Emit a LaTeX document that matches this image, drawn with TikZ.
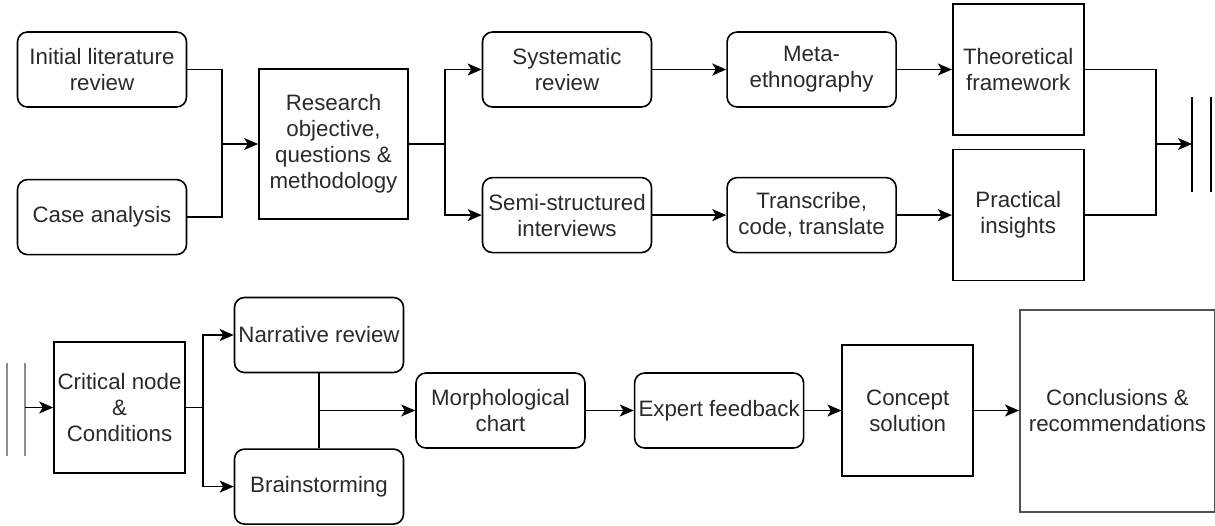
\documentclass[tikz,border=0pt]{standalone}
\usepackage{fontspec}
\setmainfont{Liberation Sans}
\usepackage{tikz}
\usetikzlibrary{positioning}
\usetikzlibrary{arrows.meta}
\definecolor{inkgray}{HTML}{2A2A2A}
\tikzstyle{stage} = [rectangle, rounded corners=10pt, draw=black, line width=1.6pt,
minimum width=169pt, minimum height=75pt, inner sep=0pt, align=center,
text=inkgray, font=\fontsize{22.3}{26}\selectfont]
\tikzstyle{block} = [stage, sharp corners, minimum width=131pt, minimum height=131pt]
\tikzstyle{link} = [line width=1.6pt]
\tikzstyle{flow} = [link, ->]
\tikzstyle{cutmark} = [line width=1.6pt]
\tikzstyle{cutgray} = [line width=2.6pt, color=black!45]
\tikzset{>={Stealth[length=14pt,width=12pt,inset=3.5pt]}}

\begin{document}
\begin{tikzpicture}
  [
    x=1pt, y=-1pt,
    node distance=40pt
    ]

  \useasboundingbox (0,0) rectangle (1215,525);

  % first row
  \node[stage] (init) at (102,69.5) {Initial literature\\review};
  \node[stage, below=71pt of init] (case) {Case analysis};

  \node[block, minimum width=149pt, minimum height=150pt] (obj) at (333.5,144)
        {Research\\objective,\\questions \&\\methodology};

  \node[stage] (sysrev) at (567,69.5) {Systematic\\review};
  \node[stage, right=74pt of sysrev] (meta) {Meta-\\ethnography};
  \node[block, right=55pt of meta] (theo) {Theoretical\\framework};

  \node[stage, below=69pt of sysrev] (interv) {Semi-structured\\interviews};
  \node[stage, below=69pt of meta] (transc) {Transcribe,\\code, translate};
  \node[block, below=13pt of theo] (insight) {Practical\\insights};

  \coordinate (jin) at (222,144);
  \coordinate (jout) at (445,144);
  \coordinate (jend) at (1156,144);
  \coordinate (cut1) at (1192,144);
  \coordinate (cut1a) at (1192,97);
  \coordinate (cut1b) at (1192,192);
  \coordinate (cut2a) at (1211,97);
  \coordinate (cut2b) at (1211,192);

  \draw[link] (init) -| (jin);
  \draw[link] (case) -| (jin);
  \draw[flow] (jin) -- (obj);

  \draw[link] (obj) -- (jout);
  \draw[flow] (jout) |- (sysrev);
  \draw[flow] (jout) |- (interv);

  \draw[flow] (sysrev) -- (meta);
  \draw[flow] (meta) -- (theo);
  \draw[flow] (interv) -- (transc);
  \draw[flow] (transc) -- (insight);

  \draw[link] (theo) -| (jend);
  \draw[link] (insight) -| (jend);
  \draw[flow] (jend) -- (cut1);
  \draw[cutmark] (cut1a) -- (cut1b);
  \draw[cutmark] (cut2a) -- (cut2b);

  % second row
  \coordinate (cutl1a) at (7,363);
  \coordinate (cutl1b) at (7,456);
  \coordinate (cutl2a) at (25,363);
  \coordinate (cutl2b) at (25,456);
  \coordinate (cutl) at (25,407.5);
  \draw[cutgray] (cutl1a) -- (cutl1b);
  \draw[cutgray] (cutl2a) -- (cutl2b);

  \node[block] (crit) at (119.5,407.5) {Critical node\\\&\\Conditions};
  \node[stage] (narr) at (319,335) {Narrative review};
  \node[stage, below=75pt of narr] (brain) {Brainstorming};
  \node[stage] (morph) at (500.5,410.5) {Morphological\\chart};
  \node[stage, right=48pt of morph] (expert) {Expert feedback};
  \node[block, right=37pt of expert] (concept) {Concept\\solution};
  \node[block, right=45pt of concept, minimum width=195pt, minimum height=202pt,
        draw=black!68, line width=2pt] (concl) {Conclusions \&\\recommendations};

  \coordinate (jsplit) at (203,407.5);

  \draw[flow] (cutl) -- (crit);
  \draw[link] (crit) -- (jsplit);
  \draw[flow] (jsplit) |- (narr);
  \draw[flow] (jsplit) |- (brain);

  \draw[link] (narr) -- (brain);
  \draw[flow] (narr.south |- morph) -- (morph);

  \draw[flow] (morph) -- (expert);
  \draw[flow] (expert) -- (concept);
  \draw[flow] (concept) -- (concl);

\end{tikzpicture}
\end{document}
